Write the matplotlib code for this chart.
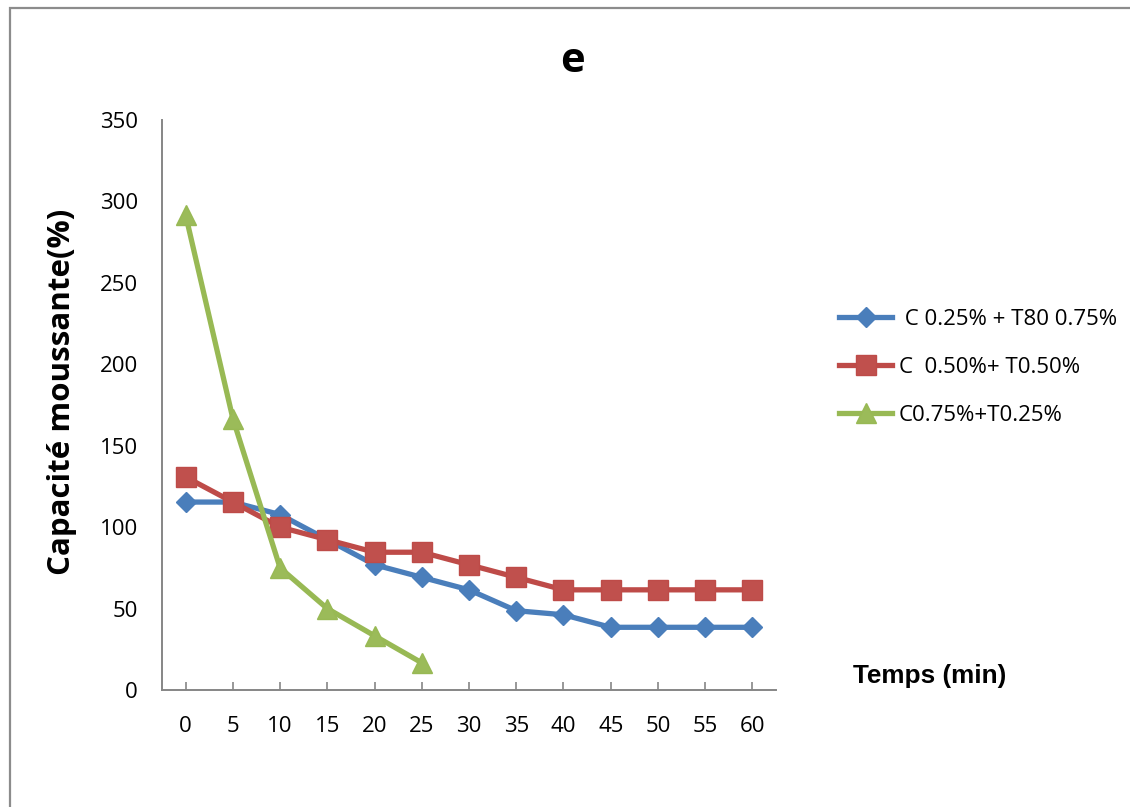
import matplotlib
matplotlib.use("Agg")
import matplotlib.pyplot as plt
from matplotlib.patches import Rectangle
from matplotlib import font_manager as fm

# Foaming capacity over time for three surfactant blends
temps = ["0", "5", "10", "15", "20", "25", "30", "35", "40", "45", "50", "55", "60"]
serie_a = [115.4, 115.4, 107.7, 92.3, 76.9, 69.2, 61.5, 48.7, 46.2, 38.5, 38.5, 38.5, 38.5]
serie_b = [130.8, 115.4, 100.0, 92.3, 84.6, 84.6, 76.9, 69.2, 61.5, 61.5, 61.5, 61.5, 61.5]
serie_c = [291.7, 166.7, 75.0, 50.0, 33.3, 16.7]
noms = [" C 0.25% + T80 0.75%", "C  0.50%+ T0.50%", "C0.75%+T0.25%"]
titre = "e"
y_ticks = [0, 50, 100, 150, 200, 250, 300, 350]


def arial_bold(size):
    # regular-width Liberation Sans Bold if present, else Roboto Bold
    for f in fm.fontManager.ttflist:
        if f.name == "Liberation Sans" and f.weight in (700, "bold") and f.stretch == "normal":
            return fm.FontProperties(fname=f.fname, size=size)
    return fm.FontProperties(family="Roboto", weight="bold", size=size)


W, H = 1130, 807
fig = plt.figure(figsize=(W / 100, H / 100), dpi=100)

# outer chart frame
fig.patches.append(Rectangle((10 / W, -0.1), 1.2, 1 - 8 / H + 0.1, transform=fig.transFigure,
                             fill=False, edgecolor="#8c8c8c", linewidth=1.6))

ax = fig.add_axes([162 / W, 1 - 690 / H, (776 - 162) / W, (690 - 120) / H])
x = list(range(len(temps)))
lw = 3.8
ax.plot(x, serie_a, color="#4A7EBB", lw=lw, marker="D", markersize=10.5,
        markerfacecolor="#4A7EBB", markeredgecolor="#4A7EBB", label=noms[0], zorder=3)
ax.plot(x, serie_b, color="#BE4B48", lw=lw, marker="s", markersize=14,
        markerfacecolor="#C0504D", markeredgecolor="#BE4B48", label=noms[1], zorder=4)
ax.plot(x[:len(serie_c)], serie_c, color="#98B954", lw=lw, marker="^", markersize=14,
        markerfacecolor="#9BBB59", markeredgecolor="#98B954", label=noms[2], zorder=5)

ax.set_xlim(-0.5, len(temps) - 0.5)
ax.set_ylim(0, 350)
ax.set_xticks(x)
ax.set_xticklabels(temps)
ax.set_yticks(y_ticks)

for s in ["top", "right"]:
    ax.spines[s].set_visible(False)
for s in ["left", "bottom"]:
    ax.spines[s].set_color("#868686")
    ax.spines[s].set_linewidth(1.4)

ax.tick_params(axis="x", direction="in", length=6, color="#868686", width=1.2, pad=19)
ax.tick_params(axis="y", length=0, pad=17.5)
for lab in ax.get_xticklabels() + ax.get_yticklabels():
    lab.set_fontfamily("Open Sans")
    lab.set_fontsize(16)

fig.text(572 / W, 1 - 62 / H, titre, ha="center", va="center",
         fontfamily="Open Sans", fontweight="bold", fontsize=30)
fig.text(62 / W, 1 - 392 / H, "Capacité moussante(%)", rotation=90, ha="center", va="center",
         fontfamily="Open Sans", fontweight="bold", fontsize=22.5)
fig.text(853 / W, 1 - 676 / H, "Temps (min)", ha="left", va="center",
         fontproperties=arial_bold(18.8))

leg = ax.legend(loc="upper left", bbox_to_anchor=(830 / W, 1 - 300 / H),
                bbox_transform=fig.transFigure, frameon=False,
                prop=dict(family="Open Sans", size=16), handlelength=2.4,
                handletextpad=0.3, labelspacing=1.22, borderaxespad=0)

fig.savefig("out.png", dpi=100, facecolor="white")
